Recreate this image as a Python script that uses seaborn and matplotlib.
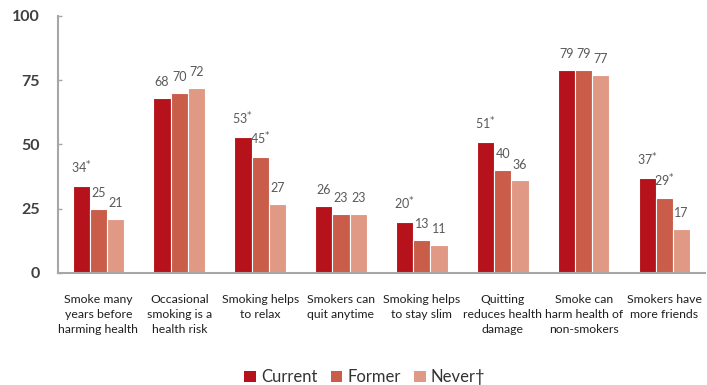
import matplotlib
matplotlib.use("Agg")
import matplotlib.pyplot as plt
import seaborn as sns
import pandas as pd
from matplotlib.patches import Patch

categories = [
    "Smoke many\nyears before\nharming health",
    "Occasional\nsmoking is a\nhealth risk",
    "Smoking helps\nto relax",
    "Smokers can\nquit anytime",
    "Smoking helps\nto stay slim",
    "Quitting\nreduces health\ndamage",
    "Smoke can\nharm health of\nnon-smokers",
    "Smokers have\nmore friends",
]
groups = ["Current", "Former", "Never†"]
current = [34, 68, 53, 26, 20, 51, 79, 37]
former = [25, 70, 45, 23, 13, 40, 79, 29]
never = [21, 72, 27, 23, 11, 36, 77, 17]
# significance markers shown next to the values
current_sig = [True, False, True, False, True, True, False, True]
former_sig = [False, False, True, False, False, False, False, True]
never_sig = [False] * 8
yticks = [0, 25, 50, 75, 100]

colors = ["#B5121B", "#C95D4A", "#E09985"]

rows = []
for g, vals, sig in zip(groups, [current, former, never], [current_sig, former_sig, never_sig]):
    for c, v, s in zip(categories, vals, sig):
        rows.append({"category": c, "group": g, "value": v, "sig": s})
df = pd.DataFrame(rows)

sns.set_theme(style="white")
FAMILY = ["Lato", "DejaVu Sans"]
plt.rcParams["font.family"] = FAMILY

fig = plt.figure(figsize=(7.07, 3.85), dpi=100)
ax = fig.add_axes([0.082, 0.291, 0.915, 0.668])

sns.barplot(data=df, x="category", y="value", hue="group", order=categories,
            hue_order=groups, palette=colors, saturation=1, width=0.64, gap=0.0,
            edgecolor="white", linewidth=0.8, ax=ax, legend=False)

ax.set_ylim(0, 100)
ax.set_xlim(-0.5, 7.5)
ax.set_yticks(yticks)
ax.set_yticklabels([str(t) for t in yticks], fontsize=11.5, fontweight="bold",
                   color="#404040")
ax.set_xticks(range(len(categories)))
ax.set_xticklabels(categories, fontsize=8.8, color="#1f1f1f", linespacing=1.45)
ax.tick_params(axis="x", length=0, pad=15)
ax.tick_params(axis="y", length=3, width=1, color="#A6A6A6", direction="in",
               pad=13, left=True)
ax.set_xlabel("")
ax.set_ylabel("")
for side in ["top", "right"]:
    ax.spines[side].set_visible(False)
for side in ["left", "bottom"]:
    ax.spines[side].set_color("#A6A6A6")
    ax.spines[side].set_linewidth(1.5)

# value labels above each bar
for container, g in zip(ax.containers, groups):
    sub = df[df["group"] == g].set_index("category").loc[categories]
    for bar, v, s in zip(container, sub["value"], sub["sig"]):
        x = bar.get_x() + bar.get_width() / 2
        label = f"{v}" + (r"$^{*}$" if s else "")
        ax.text(x, v + 3.8, label, ha="center", va="bottom", fontsize=9,
                color="#595959")

handles = [Patch(facecolor=c, edgecolor="none") for c in colors]
leg = fig.legend(handles, groups, loc="center", bbox_to_anchor=(0.516, 0.02), ncol=3,
                 frameon=False, handlelength=0.7, handleheight=0.7,
                 handletextpad=0.3, columnspacing=0.8,
                 prop={"family": FAMILY, "size": 12})
for t in leg.get_texts():
    t.set_color("#333333")

fig.savefig("out.png", dpi=100)
